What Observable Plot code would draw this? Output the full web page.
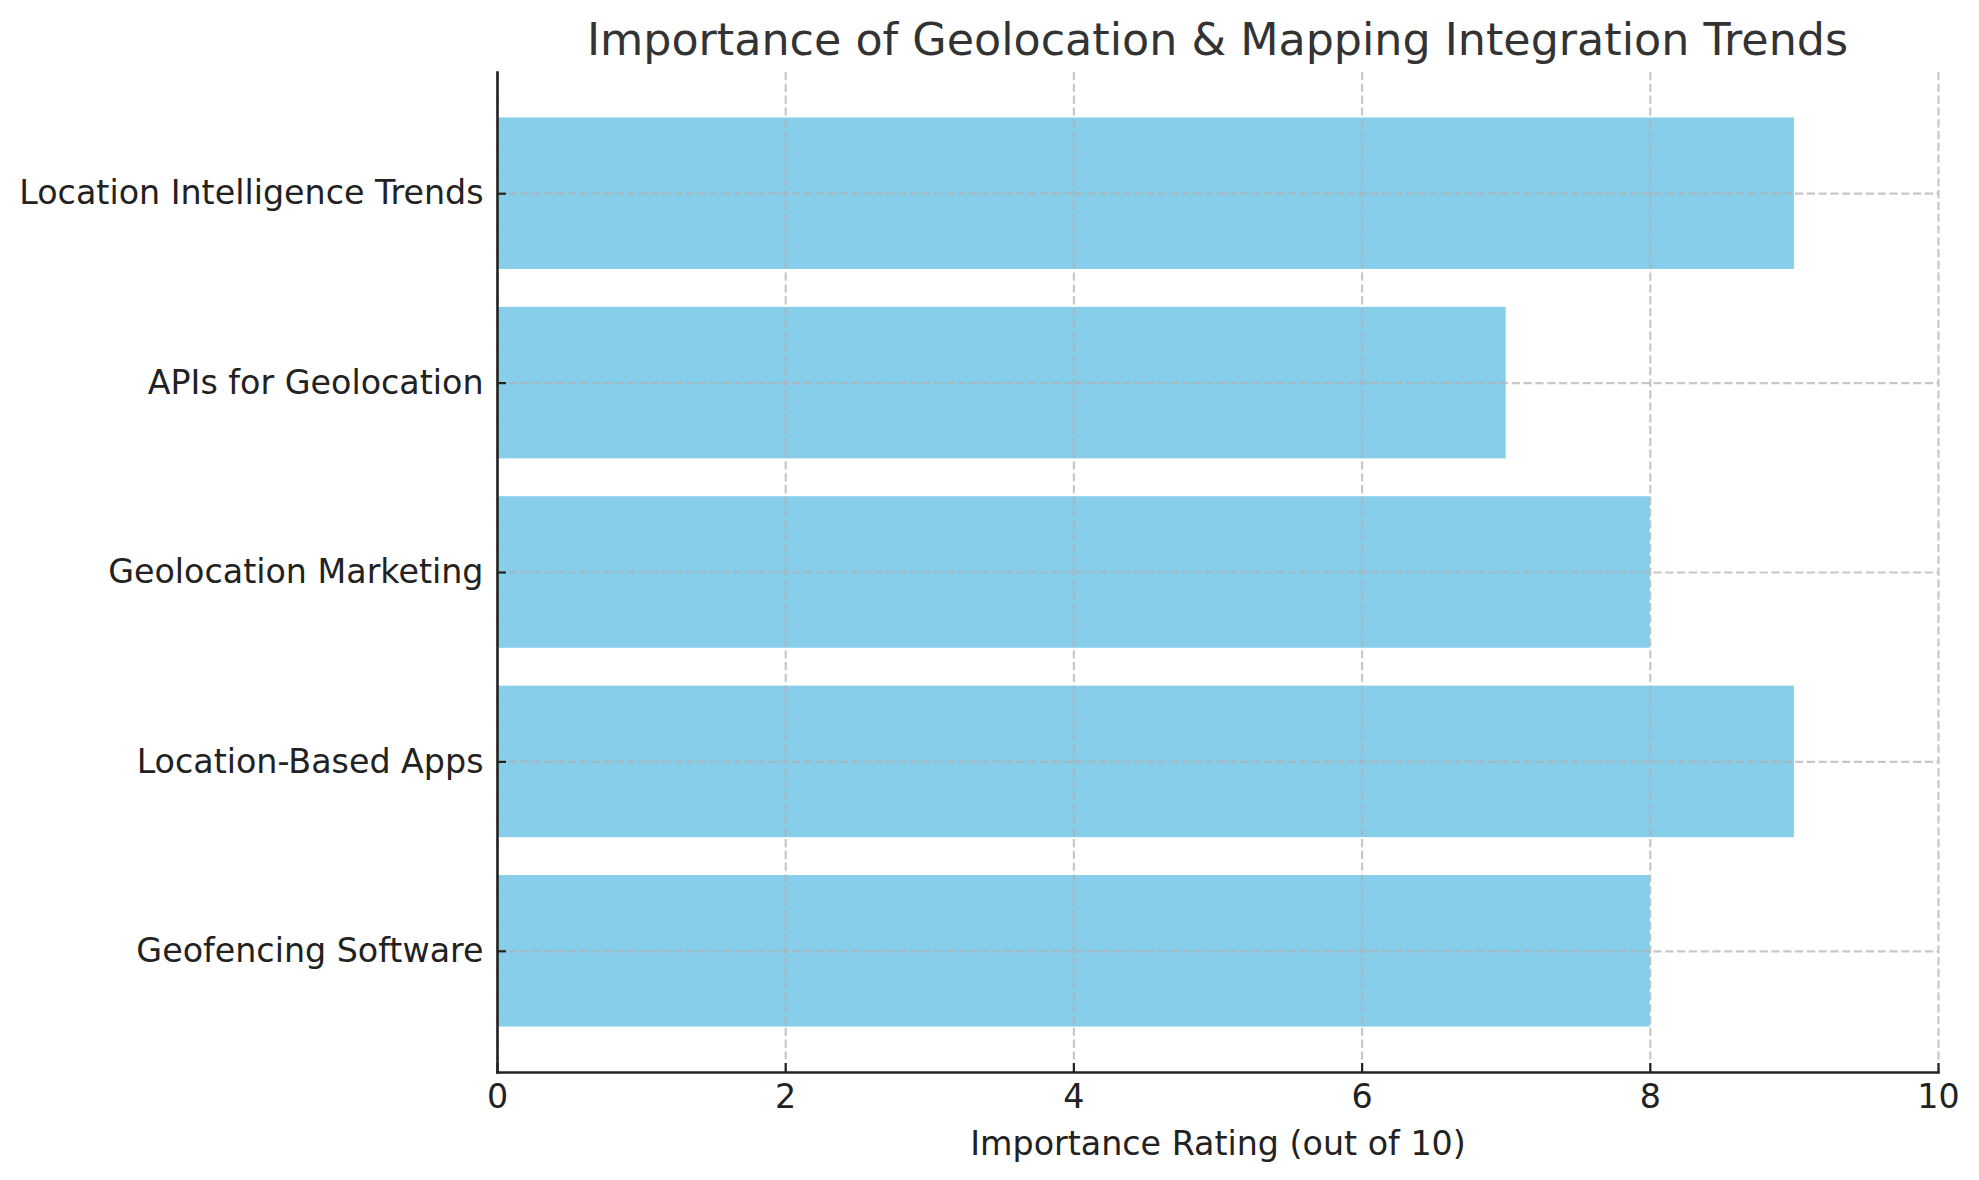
<!DOCTYPE html>
<html>
<head>
<meta charset="utf-8">
<script src="https://cdn.jsdelivr.net/npm/d3@7"></script>
<script src="https://cdn.jsdelivr.net/npm/@observablehq/plot@0.6"></script>
<style>
  html, body { margin: 0; padding: 0; background: #fff; }
  body { width: 1979px; height: 1180px; overflow: hidden; font-family: "DejaVu Sans", sans-serif; }
  #title { position: relative; height: 70px; }
  #title span { position: absolute; left: 497px; width: 1441px; top: 14px; text-align: center;
    font-size: 44.4px; line-height: normal; color: #333; white-space: nowrap; }
  #chart svg { display: block; }
</style>
</head>
<body>
<div id="title"><span>Importance of Geolocation &amp; Mapping Integration Trends</span></div>
<div id="chart"></div>
<script>
const categories = [
  "Location Intelligence Trends",
  "APIs for Geolocation",
  "Geolocation Marketing",
  "Location-Based Apps",
  "Geofencing Software"
];
const ratings = [9, 7, 8, 9, 8];
const xTicks = [0, 2, 4, 6, 8, 10];
const xLabel = "Importance Rating (out of 10)";

const data = categories.map((c, i) => ({category: c, rating: ratings[i]}));

const gridStyle = {stroke: "#b0b0b0", strokeOpacity: 0.7, strokeWidth: 2.2, strokeDasharray: "8.2,3.6"};
const ink = "#222";

const chart = Plot.plot({
  width: 1979,
  height: 1110,
  marginTop: 2,
  marginBottom: 108,
  marginLeft: 497,
  marginRight: 41,
  style: {fontFamily: "DejaVu Sans", fontSize: "33.3px", color: ink, background: "#fff", overflow: "visible"},
  x: {domain: [0, 10]},
  y: {domain: categories, paddingInner: 0.2, paddingOuter: 0.24, round: false},
  marks: [
    Plot.barX(data, {x: "rating", y: "category", fill: "#87CEEB"}),
    Plot.gridX(xTicks, gridStyle),
    Plot.gridY(categories, gridStyle),
    Plot.axisX({ticks: xTicks, tickSize: 0, tickPadding: 12, fontSize: 33.3, fill: ink,
      label: xLabel, labelAnchor: "center", labelArrow: "none", labelOffset: 82}),
    Plot.axisX({ticks: xTicks, tickSize: -9, tickFormat: () => "", label: null, stroke: ink, strokeWidth: 2.2}),
    Plot.axisY({tickSize: 0, tickPadding: 14, fontSize: 33.3, fill: ink, label: null}),
    Plot.axisY({tickSize: -9, tickFormat: () => "", label: null, stroke: ink, strokeWidth: 2.2}),
    Plot.frame({anchor: "left", stroke: ink, strokeWidth: 2.6}),
    Plot.frame({anchor: "bottom", stroke: ink, strokeWidth: 2.6})
  ]
});
document.getElementById("chart").appendChild(chart);
</script>
</body>
</html>
